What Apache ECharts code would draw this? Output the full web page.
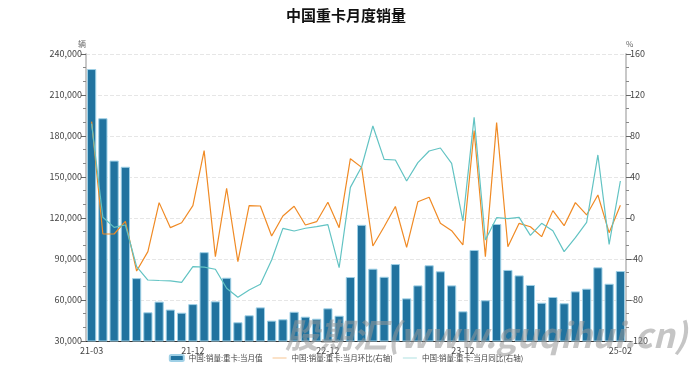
<!DOCTYPE html>
<html><head><meta charset="utf-8">
<script src="https://cdn.jsdelivr.net/npm/echarts@6/dist/echarts.min.js"></script>
<style>html,body{margin:0;padding:0;background:#fff}#c{width:692px;height:370px}</style>
</head><body><div id="c"></div>
<script>
const months = ['21-03','21-04','21-05','21-06','21-07','21-08','21-09','21-10','21-11','21-12',
 '22-01','22-02','22-03','22-04','22-05','22-06','22-07','22-08','22-09','22-10','22-11','22-12',
 '23-01','23-02','23-03','23-04','23-05','23-06','23-07','23-08','23-09','23-10','23-11','23-12',
 '24-01','24-02','24-03','24-04','24-05','24-06','24-07','24-08','24-09','24-10','24-11','24-12',
 '25-01','25-02'];
const sales = [229000,193000,162000,157500,76000,51000,58800,53000,50700,57000,
 95000,59000,76300,43700,48800,54600,44900,45900,51400,47800,46300,53900,
 48500,76800,115000,82900,77000,86300,61200,70700,85400,81000,70700,51700,
 96600,59800,115600,82000,78000,71000,58000,62200,57600,66300,68300,83900,
 71900,81200];
const mom = [94,-15.6,-15.6,-3.3,-51.7,-32.8,15,-9.4,-4.6,12,
 65.7,-37.7,29,-42.6,12,11.7,-17.6,2,11.4,-6.8,-3.6,15.3,
 -9.4,57.9,49.4,-27.3,-8.5,11.2,-28.6,15.9,20.2,-5.2,-12.4,-26.3,
 85.2,-37.7,93,-28,-5.2,-8.5,-18.2,7.2,-7.5,15,3,22.4,
 -14.3,12.4];
const yoy = [92,0.7,-9.1,-6.8,-47.5,-60.5,-61,-61.3,-62.8,-47.5,
 -48,-50,-68.6,-77.4,-70.2,-64.7,-41,-10.1,-12.7,-10,-8.5,-6.5,
 -48.5,29.9,50,89.8,57.2,56.6,36.1,54,65.4,68.3,53.3,-2.9,
 98.2,-21.5,0.3,-0.6,0.6,-16.9,-5.2,-12.4,-32.8,-19.2,-4.2,61.5,
 -25.7,36.1];
const labelIdx = [0,9,21,33,47];
const legendNames = ['中国:销量:重卡:当月值','中国:销量:重卡:当月环比(右轴)','中国:销量:重卡:当月同比(右轴)'];

const FONT = '"Noto Sans CJK SC","Noto Sans",sans-serif';
const LINE_ICON = 'path://M0,0L0.01,0L0.01,0.01Z M0,5.4L28,5.4L28,6.6L0,6.6Z M0,12L0.01,12L0.01,11.99Z';
const chart = echarts.init(document.getElementById('c'), null, {renderer:'canvas'});
const yAxisCommon = {
  axisLine:{show:true, lineStyle:{color:'#c8c8c8', width:2}},
  axisTick:{show:true, length:5, lineStyle:{color:'#666'}},
  minorTick:{show:true, splitNumber:3, length:3, lineStyle:{color:'#888'}},
  axisLabel:{fontSize:9, color:'#444', fontFamily:FONT, margin:4},
  nameGap:6
};
chart.setOption({
  animation:false,
  textStyle:{fontFamily:FONT},
  title:{text:'中国重卡月度销量', left:'center', top:3,
    textStyle:{fontSize:15, fontWeight:'bold', color:'#111', fontFamily:FONT}},
  legend:{bottom:3, left:'center', itemWidth:14, itemHeight:6, itemGap:10,
    textStyle:{fontSize:7.5, color:'#444', fontFamily:FONT},
    data:[{name:legendNames[0], icon:'roundRect'}, {name:legendNames[1], icon:LINE_ICON}, {name:legendNames[2], icon:LINE_ICON}]},
  grid:{left:86, right:66, top:54, bottom:29, containLabel:false},
  xAxis:{type:'category', data:months, boundaryGap:true,
    axisLine:{onZero:false, lineStyle:{color:'#333', width:1}},
    axisTick:{alignWithLabel:true, length:4, interval:(i)=> i%3===0 || i===47, lineStyle:{color:'#333'}},
    axisLabel:{interval:(i)=> labelIdx.includes(i), fontSize:9, color:'#444', margin:5, fontFamily:FONT}},
  yAxis:[
    Object.assign({}, yAxisCommon, {type:'value', name:'辆', min:30000, max:240000, interval:30000,
      nameTextStyle:{fontSize:8, color:'#666', align:'right', fontFamily:FONT},
      axisLabel:Object.assign({}, yAxisCommon.axisLabel, {formatter:(v)=> v.toLocaleString('en-US')}),
      splitLine:{show:true, lineStyle:{type:'dashed', color:'#e6e6e6'}}}),
    Object.assign({}, yAxisCommon, {type:'value', name:'%', min:-120, max:160, interval:40, position:'right',
      nameTextStyle:{fontSize:8, color:'#666', align:'left', fontFamily:FONT},
      splitLine:{show:false}})
  ],
  series:[
    {name:legendNames[0], type:'bar', data:sales, barCategoryGap:'18%', yAxisIndex:0,
      itemStyle:{color:'#21739f', borderColor:'#9fd0e6', borderWidth:1}},
    {name:legendNames[1], type:'line', data:mom, yAxisIndex:1, symbol:'none',
      lineStyle:{color:'#f08a24', width:1.2}, itemStyle:{color:'#f08a24'}},
    {name:legendNames[2], type:'line', data:yoy, yAxisIndex:1, symbol:'none',
      lineStyle:{color:'#62c3c3', width:1.2}, itemStyle:{color:'#62c3c3'}}
  ],
  graphic:[{type:'text', left:285, top:318, z:100, silent:true,
    style:{text:'股期汇(www.guqihui.cn)', fontSize:34, fontWeight:'bold', fontStyle:'italic',
      fill:'rgba(150,150,150,0.55)', fontFamily:FONT}}]
});
</script></body></html>
